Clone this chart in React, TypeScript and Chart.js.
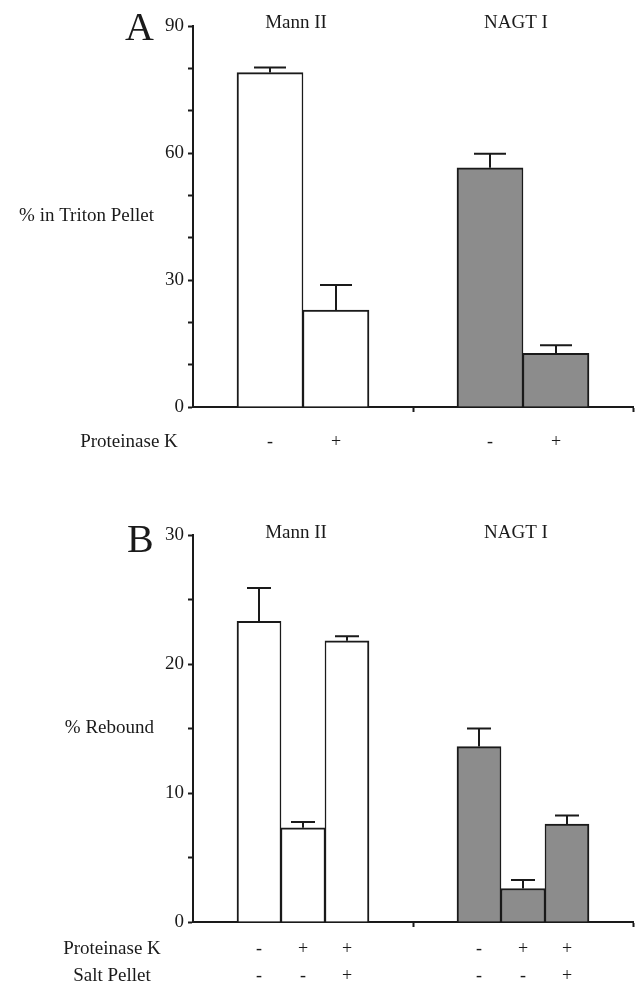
import React, { useEffect, useRef } from "react";
import { Chart, registerables } from "chart.js";

Chart.register(...registerables);

// ---------- data: panel A ----------
const groupsA = ["Mann II", "NAGT I"];
const groupOfBarA = [0, 0, 1, 1];
const proteinaseKA = ["-", "+", "-", "+"];
const valuesA = [79.0, 22.9, 56.5, 12.7];
const errorsA = [1.2, 5.9, 3.3, 1.9];
const yTickLabelsA = [0, 30, 60, 90];
const rowLabelsA = ["Proteinase K"];

// ---------- data: panel B ----------
const groupsB = ["Mann II", "NAGT I"];
const groupOfBarB = [0, 0, 0, 1, 1, 1];
const proteinaseKB = ["-", "+", "+", "-", "+", "+"];
const saltPelletB = ["-", "-", "+", "-", "-", "+"];
const valuesB = [23.3, 7.3, 21.8, 13.6, 2.6, 7.6];
const errorsB = [2.6, 0.45, 0.35, 1.4, 0.65, 0.65];
const yTickLabelsB = [0, 10, 20, 30];
const rowLabelsB = ["Proteinase K", "Salt Pellet"];

// ---------- styles / layout ----------
const INK = "#1a1a1a";
const FILLS = ["#ffffff", "#8c8c8c"];
const SERIF = "'Liberation Serif', 'DejaVu Serif', serif";
const CHART_LEFT = 193;
const SLOTS = 20;
const GROUP_START = [2, 12];

type Panel = {
  letter: string;
  groups: string[];
  groupOfBar: number[];
  rows: string[][];
  rowLabels: string[];
  values: number[];
  errors: number[];
  yMax: number;
  yStep: number;
  yLabels: number[];
  yTitle: string;
  barSlots: number;
  capWidth: number;
  height: number;
  padTop: number;
  labelAxisHeight: number;
  labelPad: number;
  rowLabelCenter: number;
  letterDx: number;
  letterDy: number;
  headerDy: number;
};

const panelA: Panel = {
  letter: "A",
  groups: groupsA,
  groupOfBar: groupOfBarA,
  rows: [proteinaseKA],
  rowLabels: rowLabelsA,
  values: valuesA,
  errors: errorsA,
  yMax: 90,
  yStep: 10,
  yLabels: yTickLabelsA,
  yTitle: "% in Triton Pellet",
  barSlots: 3,
  capWidth: 32,
  height: 490,
  padTop: 26,
  labelAxisHeight: 77,
  labelPad: 15.5,
  rowLabelCenter: 64,
  letterDx: 68,
  letterDy: 14,
  headerDy: 2,
};

const panelB: Panel = {
  letter: "B",
  groups: groupsB,
  groupOfBar: groupOfBarB,
  rows: [proteinaseKB, saltPelletB],
  rowLabels: rowLabelsB,
  values: valuesB,
  errors: errorsB,
  yMax: 30,
  yStep: 5,
  yLabels: yTickLabelsB,
  yTitle: "% Rebound",
  barSlots: 2,
  capWidth: 24,
  height: 494,
  padTop: 45,
  labelAxisHeight: 56,
  labelPad: 7.5,
  rowLabelCenter: 81,
  letterDx: 66,
  letterDy: 17,
  headerDy: 3,
};

function barCenters(p: Panel): number[] {
  const counters = p.groups.map(() => 0);
  return p.groupOfBar.map((g) => {
    const k = counters[g]++;
    return GROUP_START[g] + (k + 0.5) * p.barSlots;
  });
}

function groupCenters(p: Panel): number[] {
  return p.groups.map((_, g) => {
    const n = p.groupOfBar.filter((x) => x === g).length;
    return GROUP_START[g] + (n * p.barSlots) / 2;
  });
}

function makeConfig(p: Panel): any {
  const centers = barCenters(p);
  const gCenters = groupCenters(p);
  const LINE_H = 27;

  const decor = {
    id: "decor" + p.letter,
    afterDatasetsDraw(chart: any) {
      const ctx = chart.ctx;
      const meta = chart.getDatasetMeta(0);
      const ys = chart.scales.y;
      ctx.save();
      ctx.strokeStyle = INK;
      ctx.lineWidth = 2;
      meta.data.forEach((el: any, i: number) => {
        const { x, y } = el.getProps(["x", "y"], true);
        const tip = ys.getPixelForValue(p.values[i] + p.errors[i]);
        ctx.beginPath();
        ctx.moveTo(x, y);
        ctx.lineTo(x, tip);
        ctx.moveTo(x - p.capWidth / 2, tip);
        ctx.lineTo(x + p.capWidth / 2, tip);
        ctx.stroke();
      });
      ctx.restore();
    },
    afterDraw(chart: any) {
      const ctx = chart.ctx;
      const area = chart.chartArea;
      const xs = chart.scales.x;
      const xl = chart.scales.xl;
      ctx.save();
      ctx.fillStyle = INK;
      // panel letter
      ctx.font = `40px ${SERIF}`;
      ctx.textAlign = "left";
      ctx.textBaseline = "alphabetic";
      ctx.fillText(p.letter, area.left - p.letterDx, area.top + p.letterDy);
      // group headers
      ctx.font = `19px ${SERIF}`;
      ctx.textAlign = "center";
      p.groups.forEach((g, i) => {
        ctx.fillText(g, xs.getPixelForValue(gCenters[i]) - 7, area.top + p.headerDy);
      });
      // y title (horizontal)
      ctx.textAlign = "right";
      ctx.textBaseline = "middle";
      ctx.fillText(p.yTitle, area.left - 39, (area.top + area.bottom) / 2);
      // row labels
      ctx.textAlign = "center";
      p.rowLabels.forEach((r, i) => {
        ctx.fillText(r, area.left - p.rowLabelCenter, xl.top + p.labelPad + LINE_H * (i + 0.5));
      });
      ctx.restore();
    },
  };

  const firstInGroup = (i: number) => i === 0 || p.groupOfBar[i - 1] !== p.groupOfBar[i];
  const lastInGroup = (i: number) =>
    i === p.groupOfBar.length - 1 || p.groupOfBar[i + 1] !== p.groupOfBar[i];

  return {
    type: "bar",
    data: {
      datasets: [
        {
          data: p.values.map((v, i) => ({ x: centers[i], y: v })),
          xAxisID: "x",
          yAxisID: "y",
          backgroundColor: p.groupOfBar.map((g) => FILLS[g]),
          borderColor: INK,
          borderWidth: (c: any) => ({
            top: 2,
            bottom: 0,
            left: firstInGroup(c.dataIndex) ? 2 : 1.5,
            right: lastInGroup(c.dataIndex) ? 2 : 1.5,
          }),
          categoryPercentage: 1,
          barPercentage: 1,
        },
      ],
    },
    options: {
      animation: false,
      responsive: false,
      maintainAspectRatio: false,
      events: [],
      layout: { padding: { top: p.padTop, right: 2, left: 0, bottom: 0 } },
      plugins: {
        legend: { display: false },
        tooltip: { enabled: false },
        title: { display: false },
      },
      scales: {
        x: {
          type: "linear",
          axis: "x",
          position: "bottom",
          weight: 0,
          min: 0,
          max: SLOTS,
          offset: false,
          afterBuildTicks: (s: any) => {
            s.ticks = [{ value: 0 }, { value: SLOTS / 2 }, { value: SLOTS }];
          },
          afterFit: (s: any) => {
            s.height = 6;
          },
          ticks: { display: false },
          grid: {
            offset: false,
            drawOnChartArea: false,
            drawTicks: true,
            tickLength: 5,
            tickWidth: 2,
            tickColor: (c: any) => (c.tick && c.tick.value === 0 ? "rgba(0,0,0,0)" : INK),
          },
          border: { display: true, color: INK, width: 2 },
        },
        xl: {
          type: "linear",
          axis: "x",
          position: "bottom",
          weight: 1,
          min: 0,
          max: SLOTS,
          offset: false,
          afterBuildTicks: (s: any) => {
            s.ticks = centers.map((c) => ({ value: c }));
          },
          afterFit: (s: any) => {
            s.height = p.labelAxisHeight;
          },
          grid: { display: false, drawTicks: false, offset: false },
          border: { display: false },
          ticks: {
            autoSkip: false,
            maxRotation: 0,
            minRotation: 0,
            padding: p.labelPad,
            color: INK,
            font: { family: SERIF, size: 18, lineHeight: "27px" },
            callback: (_v: any, i: number) =>
              p.rows.length === 1 ? p.rows[0][i] : p.rows.map((r) => r[i]),
          },
        },
        y: {
          type: "linear",
          position: "left",
          min: 0,
          max: p.yMax,
          afterFit: (s: any) => {
            s.width = CHART_LEFT;
          },
          ticks: {
            stepSize: p.yStep,
            autoSkip: false,
            padding: 4,
            color: INK,
            font: { family: SERIF, size: 19 },
            callback: (v: any) => (p.yLabels.includes(Number(v)) ? String(v) : ""),
          },
          grid: {
            drawOnChartArea: false,
            drawTicks: true,
            tickLength: 5,
            tickWidth: 2,
            tickColor: INK,
          },
          border: { display: true, color: INK, width: 2 },
        },
      },
    },
    plugins: [decor],
  };
}

function PanelChart({ panel }: { panel: Panel }) {
  const ref = useRef<HTMLCanvasElement | null>(null);
  useEffect(() => {
    if (!ref.current) return;
    const chart = new Chart(ref.current, makeConfig(panel));
    return () => chart.destroy();
  }, [panel]);
  return (
    <canvas
      ref={ref}
      width={635}
      height={panel.height}
      style={{ display: "block", width: 635, height: panel.height }}
    />
  );
}

export default function App() {
  return (
    <div
      style={{
        position: "absolute",
        left: 0,
        top: 0,
        width: 635,
        height: 984,
        background: "#ffffff",
      }}
    >
      <PanelChart panel={panelA} />
      <PanelChart panel={panelB} />
    </div>
  );
}
